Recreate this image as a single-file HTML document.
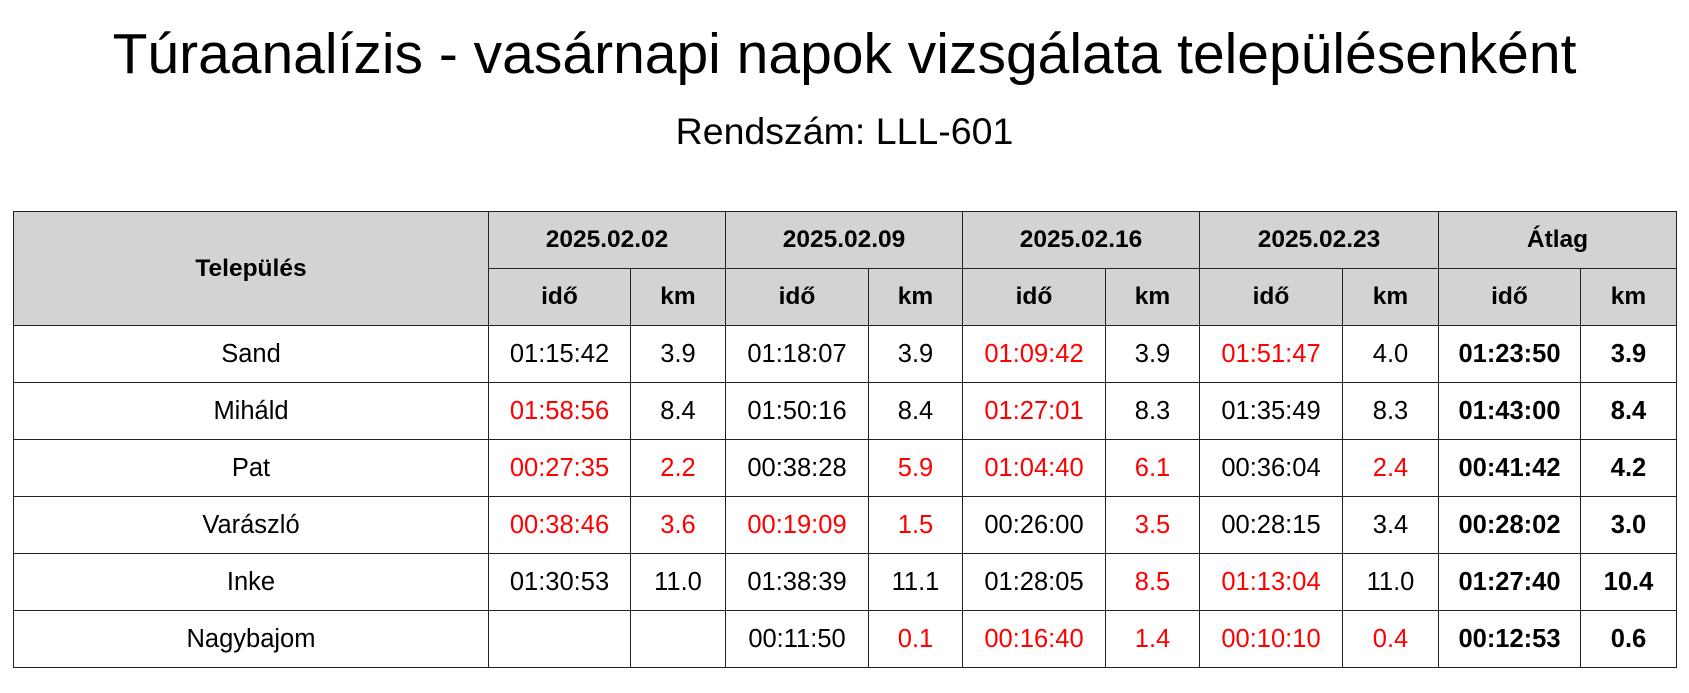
<!DOCTYPE html>
<html><head><meta charset="utf-8"><style>
body{margin:0;width:1689px;height:693px;background:#fff;font-family:"Liberation Sans",Arial,sans-serif;overflow:hidden;position:relative}
#t1{position:absolute;top:21px;left:0;width:1689px;text-align:center;font-size:57px;line-height:66px}
#t2{position:absolute;top:109px;left:0;width:1689px;text-align:center;font-size:37.5px;line-height:44px}
table{position:absolute;left:13px;top:211px;width:1663px;border-collapse:collapse;table-layout:fixed;font-size:25.5px}
td,th{border:1.5px solid #222;text-align:center;padding:0;overflow:hidden;white-space:nowrap}
th{background:#d3d3d3;font-weight:bold;font-size:24.5px;height:56px}
td{height:56px}
.r{color:#f00}.b{font-weight:bold}
</style></head><body>
<div id="t1">Túraanalízis - vasárnapi napok vizsgálata településenként</div>
<div id="t2">Rendszám: LLL-601</div>
<table>
<colgroup><col style="width:475px"><col style="width:142px"><col style="width:95px"><col style="width:143px"><col style="width:94px"><col style="width:143px"><col style="width:94px"><col style="width:143px"><col style="width:96px"><col style="width:142px"><col style="width:96px"></colgroup>
<tr><th rowspan="2">Település</th><th colspan="2">2025.02.02</th><th colspan="2">2025.02.09</th><th colspan="2">2025.02.16</th><th colspan="2">2025.02.23</th><th colspan="2">Átlag</th></tr>
<tr><th>idő</th><th>km</th><th>idő</th><th>km</th><th>idő</th><th>km</th><th>idő</th><th>km</th><th>idő</th><th>km</th></tr>
<tr><td>Sand</td><td>01:15:42</td><td>3.9</td><td>01:18:07</td><td>3.9</td><td class="r">01:09:42</td><td>3.9</td><td class="r">01:51:47</td><td>4.0</td><td class="b">01:23:50</td><td class="b">3.9</td></tr>
<tr><td>Miháld</td><td class="r">01:58:56</td><td>8.4</td><td>01:50:16</td><td>8.4</td><td class="r">01:27:01</td><td>8.3</td><td>01:35:49</td><td>8.3</td><td class="b">01:43:00</td><td class="b">8.4</td></tr>
<tr><td>Pat</td><td class="r">00:27:35</td><td class="r">2.2</td><td>00:38:28</td><td class="r">5.9</td><td class="r">01:04:40</td><td class="r">6.1</td><td>00:36:04</td><td class="r">2.4</td><td class="b">00:41:42</td><td class="b">4.2</td></tr>
<tr><td>Varászló</td><td class="r">00:38:46</td><td class="r">3.6</td><td class="r">00:19:09</td><td class="r">1.5</td><td>00:26:00</td><td class="r">3.5</td><td>00:28:15</td><td>3.4</td><td class="b">00:28:02</td><td class="b">3.0</td></tr>
<tr><td>Inke</td><td>01:30:53</td><td>11.0</td><td>01:38:39</td><td>11.1</td><td>01:28:05</td><td class="r">8.5</td><td class="r">01:13:04</td><td>11.0</td><td class="b">01:27:40</td><td class="b">10.4</td></tr>
<tr><td>Nagybajom</td><td></td><td></td><td>00:11:50</td><td class="r">0.1</td><td class="r">00:16:40</td><td class="r">1.4</td><td class="r">00:10:10</td><td class="r">0.4</td><td class="b">00:12:53</td><td class="b">0.6</td></tr>
</table>
</body></html>
